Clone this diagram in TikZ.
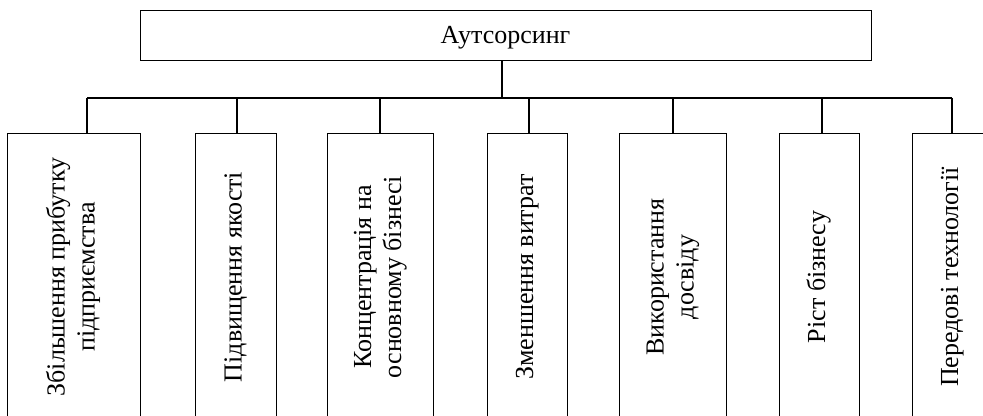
\documentclass[tikz,border=0pt]{standalone}
\usepackage{fontspec}
\setmainfont{Liberation Serif}
\usetikzlibrary{positioning}

\tikzset{
  box/.style={draw, line width=0.7pt, inner sep=0pt, font=\fontsize{19.5}{22.5}\selectfont},
  link/.style={line width=1.1pt}
}

\begin{document}
\begin{tikzpicture}[x=0.75pt, y=-0.75pt]
  \useasboundingbox (0,0) rectangle (983,416);
  \clip (0,0) rectangle (983,416);

  \node[box, minimum width=548.25pt, minimum height=37.5pt, text height=17pt, text depth=4.5pt] (top) at (505.5,35) {Аутсорсинг};

  \coordinate (stem) at (502,98);
  \draw[link] (stem |- top.south) -- (stem);

  \foreach \n/\cx/\w/\dx/\t in {
      1/73.5/99.75pt/87/{Збільшення прибутку\\підприємства},
      2/235.5/60.75pt/237/{Підвищення якості},
      3/380/79.5pt/380/{Концентрація на\\основному бізнесі},
      4/527/60pt/529/{Зменшення витрат},
      5/672.5/80.25pt/673/{Використання\\досвіду},
      6/819/60pt/822/{Ріст бізнесу},
      7/952/60pt/952/{Передові технології}} {
    \node[box, minimum width=\w, minimum height=216pt] (b\n) at (\cx,277)
      {\rotatebox{90}{\begin{tabular}{@{}c@{}}\t\end{tabular}}};
    \coordinate (d\n) at (\dx,98);
    \draw[link] (d\n) -- (d\n |- b\n.north);
  }

  \draw[link] (d1) -- (d7);
\end{tikzpicture}
\end{document}
